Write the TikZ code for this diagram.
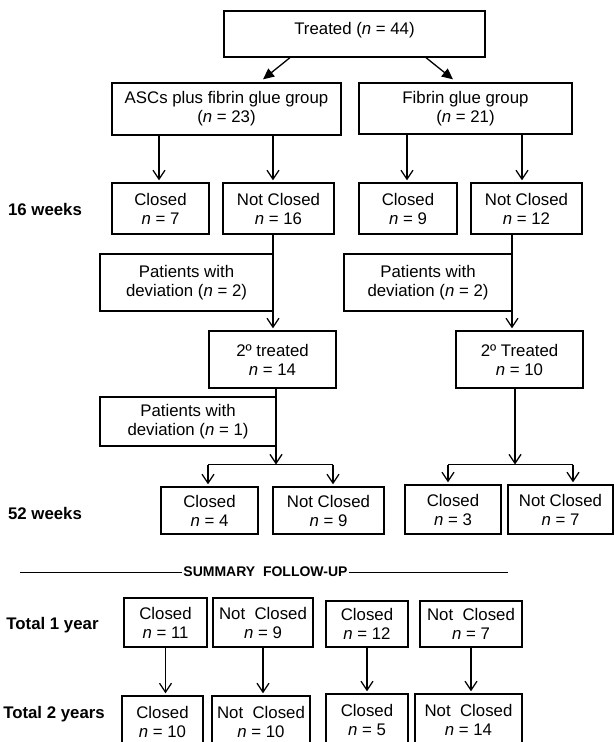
\documentclass[tikz,border=0pt]{standalone}
\usepackage{fontspec}
\setmainfont{Liberation Sans}
\usetikzlibrary{arrows.meta}
\begin{document}
\begin{tikzpicture}[
      x=1pt, y=-1pt,
      font=\fontsize{16.8}{19}\selectfont,
      box/.style={draw, line width=1.3pt, align=center, inner sep=0pt},
      week/.style={font=\fontsize{16.8}{19}\selectfont\bfseries},
      link/.style={line width=1.3pt},
      open/.style={line width=1.3pt, shorten >=2pt, -{Straight Barb[length=9pt,width=12pt]}},
      branch/.style={line width=1.3pt, -{Triangle[length=11pt,width=10pt]}},
    ]
      \useasboundingbox (0,0) rectangle (614,742);
      \clip (0,0) rectangle (614,742);
      \node[box, minimum width=261pt, minimum height=46pt, text depth=12pt] (treated) at (354.5,34) {Treated (\textit{n} = 44)};
      \node[box, minimum width=229pt, minimum height=52pt] (ascs) at (226.5,109) {ASCs plus fibrin glue group\\(\textit{n} = 23)};
      \node[box, minimum width=213pt, minimum height=51pt] (fibrin) at (465.5,108.5) {Fibrin glue group\\(\textit{n} = 21)};
      \node[box, minimum width=97pt, minimum height=51pt] (c7) at (160.5,208.5) {Closed\\\textit{n} = 7};
      \node[box, minimum width=111pt, minimum height=51pt] (nc16) at (278.5,208.5) {Not Closed\\\textit{n} = 16};
      \node[box, minimum width=98pt, minimum height=51pt] (c9) at (408,208.5) {Closed\\\textit{n} = 9};
      \node[box, minimum width=111pt, minimum height=51pt] (nc12) at (526.5,208.5) {Not Closed\\\textit{n} = 12};
      \node[box, minimum width=173pt, minimum height=57pt] (dev2a) at (186.5,282.5) {Patients with\\deviation (\textit{n} = 2)};
      \node[box, minimum width=168pt, minimum height=57pt] (dev2b) at (428,282.5) {Patients with\\deviation (\textit{n} = 2)};
      \node[box, minimum width=127pt, minimum height=57pt] (tr14) at (272.5,359.5) {2º treated\\\textit{n} = 14};
      \node[box, minimum width=127pt, minimum height=57pt] (tr10) at (519.5,359.5) {2º Treated\\\textit{n} = 10};
      \node[box, minimum width=176pt, minimum height=49pt] (dev1) at (188,421.5) {Patients with\\deviation (\textit{n} = 1)};
      \node[box, minimum width=97pt, minimum height=47pt] (c4) at (209.5,510.5) {Closed\\\textit{n} = 4};
      \node[box, minimum width=111pt, minimum height=47pt] (nc9) at (328.5,510.5) {Not Closed\\\textit{n} = 9};
      \node[box, minimum width=96pt, minimum height=49pt] (c3) at (453,509.5) {Closed\\\textit{n} = 3};
      \node[box, minimum width=105pt, minimum height=49pt] (nc7) at (560.5,509.5) {Not Closed\\\textit{n} = 7};
      \node[week] (w16) at (45,209) {16 weeks};
      \node[week] (w52) at (45,513) {52 weeks};
      \node[font=\fontsize{14}{16}\selectfont\bfseries, inner sep=1pt] (summary) at (265.5,572) {SUMMARY\ \ FOLLOW-UP};
      \node[week] (y1) at (52.5,625) {Total 1 year};
      \node[week] (y2) at (54,714) {Total 2 years};
      \node[box, minimum width=83pt, minimum height=49pt] (t1c) at (165.5,622.5) {Closed\\\textit{n} = 11};
      \node[box, minimum width=100pt, minimum height=49pt] (t1n) at (263,622.5) {Not\ \ Closed\\\textit{n} = 9};
      \node[box, minimum width=82pt, minimum height=46pt] (t1c2) at (367,624) {Closed\\\textit{n} = 12};
      \node[box, minimum width=102pt, minimum height=46pt] (t1n2) at (471,624) {Not\ \ Closed\\\textit{n} = 7};
      \node[box, minimum width=81pt, minimum height=52pt] (t2c) at (162.5,722) {Closed\\\textit{n} = 10};
      \node[box, minimum width=98pt, minimum height=52pt] (t2n) at (261,722) {Not\ \ Closed\\\textit{n} = 10};
      \node[box, minimum width=82pt, minimum height=52pt] (t2c2) at (367,720) {Closed\\\textit{n} = 5};
      \node[box, minimum width=107pt, minimum height=52pt] (t2n2) at (468.5,720) {Not\ \ Closed\\\textit{n} = 14};
      \coordinate (a1) at (159,0);
      \coordinate (a2) at (273,0);
      \coordinate (a3) at (407,0);
      \coordinate (a4) at (522,0);
      \coordinate (a5) at (512,0);
      \coordinate (a6) at (276,0);
      \coordinate (a7) at (515,0);
      \coordinate (split1) at (276,464.5);
      \coordinate (split1l) at (208,464.5);
      \coordinate (split1r) at (333,464.5);
      \coordinate (split2) at (515,464.5);
      \coordinate (split2l) at (448,464.5);
      \coordinate (split2r) at (573,464.5);
      \coordinate (sumL) at (20,572.5);
      \coordinate (sumR) at (508,572.5);
      \draw[branch] ([xshift=-64.5pt]treated.south) -- ([xshift=36.5pt,yshift=3pt]ascs.north);
      \draw[branch] ([xshift=71.5pt]treated.south) -- ([xshift=-12.5pt,yshift=3pt]fibrin.north);
      \draw[open] (a1 |- ascs.south) -- (a1 |- c7.north);
      \draw[open] (a2 |- ascs.south) -- (a2 |- nc16.north);
      \draw[open] (a3 |- fibrin.south) -- (a3 |- c9.north);
      \draw[open] (a4 |- fibrin.south) -- (a4 |- nc12.north);
      \draw[open] (a2 |- nc16.south) -- (a2 |- tr14.north);
      \draw[open] (a5 |- nc12.south) -- (a5 |- tr10.north);
      \draw[open, shorten >=0pt] (a6 |- tr14.south) -- (split1);
      \draw[link] (split1l) -- (split1r);
      \draw[open] (split1l) -- (split1l |- c4.north);
      \draw[open] (split1r) -- (split1r |- nc9.north);
      \draw[open, shorten >=0pt] (a7 |- tr10.south) -- (split2);
      \draw[link] (split2l) -- (split2r);
      \draw[open] (split2l) -- (split2l |- c3.north);
      \draw[open] (split2r) -- (split2r |- nc7.north);
      \draw[link] (sumL) -- (sumL -| summary.west);
      \draw[link] (summary.east |- sumR) -- (sumR);
      \draw[open] (t1c.south) -- (t1c.south |- t2c.north);
      \draw[open] (t1n.south) -- (t1n.south |- t2n.north);
      \draw[open] (t1c2.south) -- (t1c2.south |- t2c2.north);
      \draw[open] (t1n2.south) -- (t1n2.south |- t2n2.north);
    \end{tikzpicture}
\end{document}
